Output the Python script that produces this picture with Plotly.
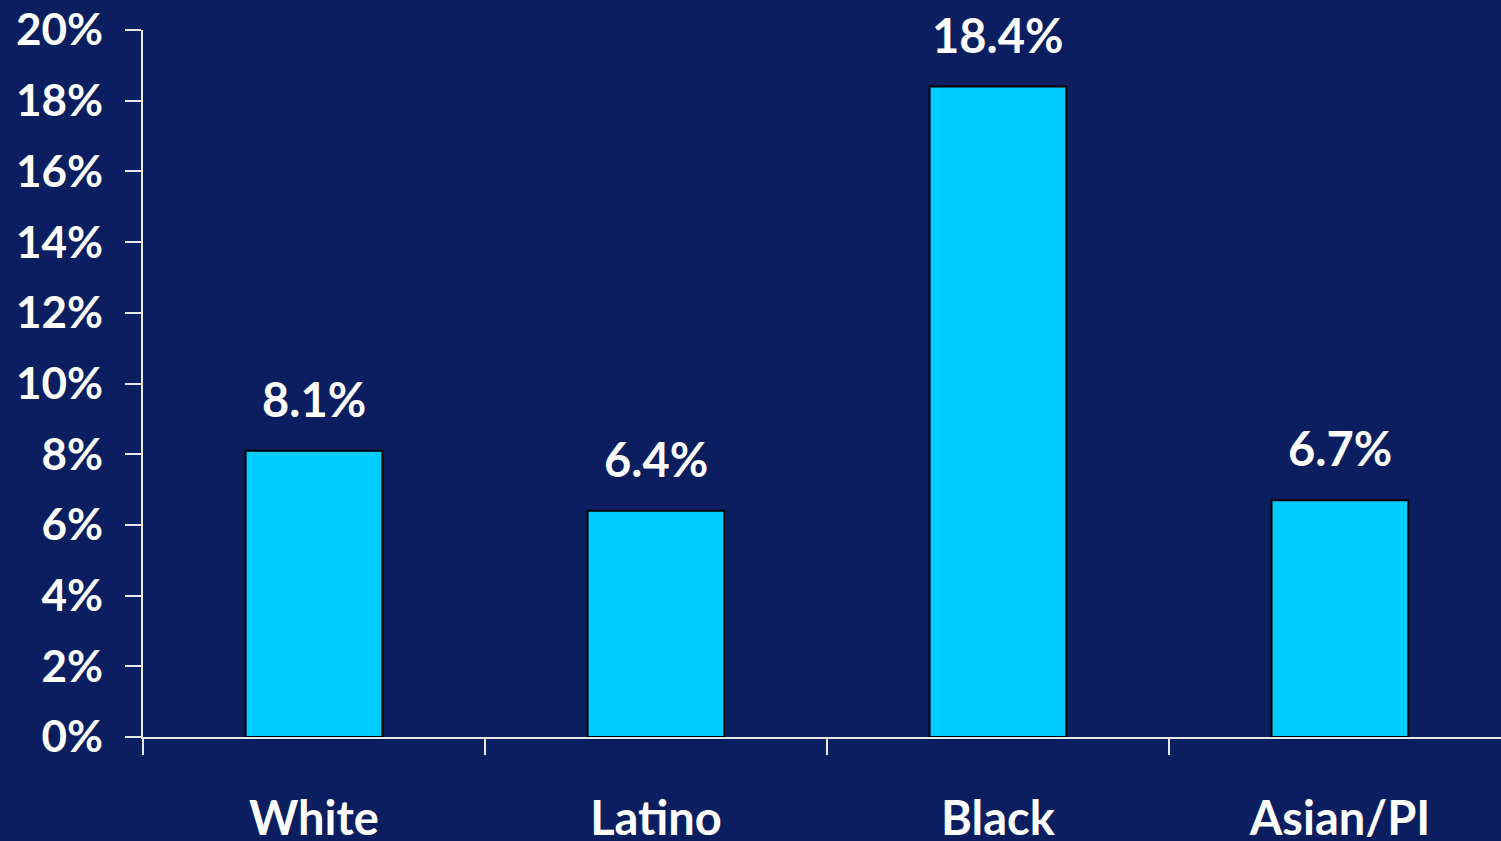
import plotly.graph_objects as go

groups = ["White", "Latino", "Black", "Asian/PI"]
rates = [8.1, 6.4, 18.4, 6.7]
rate_labels = ["8.1%", "6.4%", "18.4%", "6.7%"]
y_ticks = [0, 2, 4, 6, 8, 10, 12, 14, 16, 18, 20]
y_tick_text = [f"{v}%" for v in y_ticks]

BG = "#0B1F60"
BAR = "#00CCFF"
FONT = "Lato, 'Open Sans', sans-serif"

fig = go.Figure()
fig.add_trace(go.Bar(
    x=groups,
    y=rates,
    width=0.4,
    marker=dict(color=BAR, line=dict(color="#000000", width=2)),
    hoverinfo="skip",
))

for g, v, t in zip(groups, rates, rate_labels):
    fig.add_annotation(
        x=g, y=v, text=f"<b>{t}</b>", showarrow=False,
        yanchor="bottom", yshift=22,
        font=dict(family=FONT, size=47, color="white"),
    )

fig.update_layout(
    width=1501, height=841,
    paper_bgcolor=BG, plot_bgcolor=BG,
    margin=dict(l=143, r=0, t=30, b=104),
    showlegend=False,
    font=dict(family=FONT, color="white"),
    xaxis=dict(
        type="category",
        range=[-0.5, 3.471],
        tickson="boundaries",
        ticks="outside", ticklen=16, tickwidth=2, tickcolor="#E8E8E8",
        showline=True, linecolor="#E8E8E8", linewidth=2,
        showgrid=False, zeroline=False,
        tickfont=dict(family=FONT, size=47, color="white"),
        ticklabelstandoff=40,
        tickprefix="<b>", ticksuffix="</b>",
        automargin=False,
    ),
    yaxis=dict(
        range=[0, 20],
        tickvals=y_ticks, ticktext=[f"<b>{s}</b>" for s in y_tick_text],
        ticks="outside", ticklen=16, tickwidth=2, tickcolor="#E8E8E8",
        showline=True, linecolor="#E8E8E8", linewidth=2,
        showgrid=False, zeroline=False,
        tickfont=dict(family=FONT, size=44, color="white"),
        ticklabelstandoff=13,
        automargin=False,
    ),
)

fig.write_html("out.html")
